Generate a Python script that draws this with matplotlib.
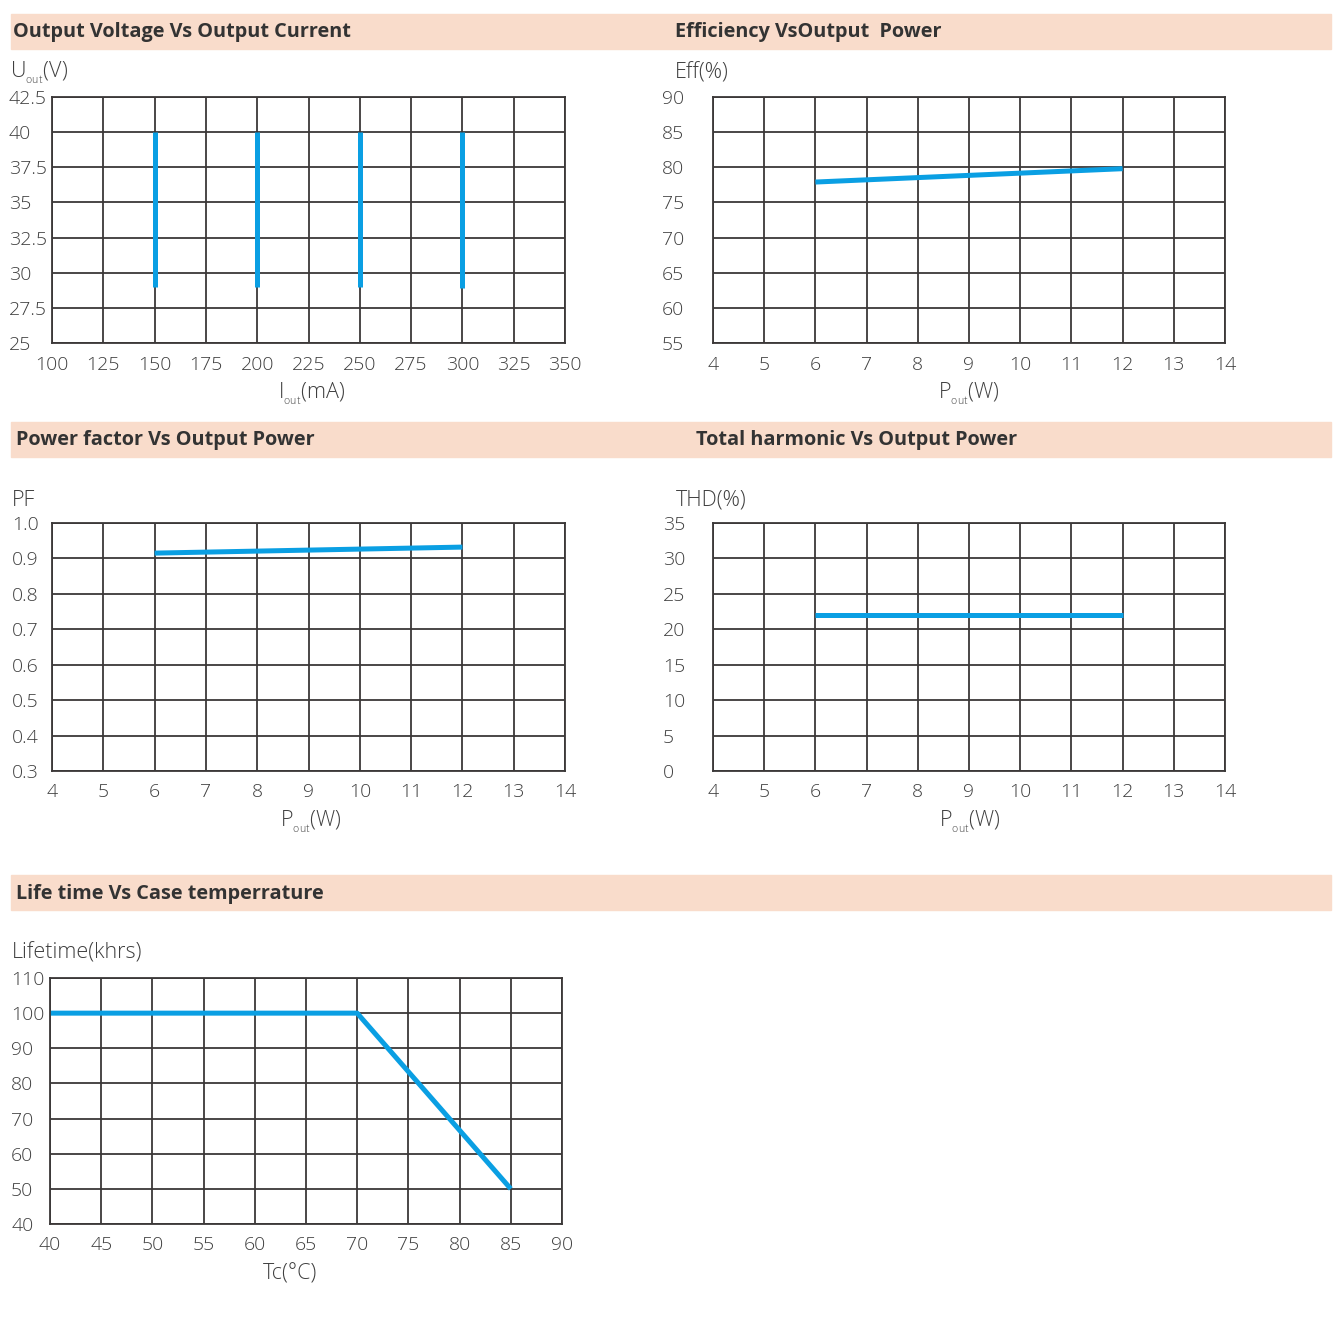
import matplotlib
matplotlib.use("Agg")
import matplotlib.pyplot as plt
from matplotlib.patches import Rectangle

plt.rcParams['font.family'] = ['Open Sans', 'DejaVu Sans']
plt.rcParams['font.weight'] = 'light'
plt.rcParams['mathtext.fontset'] = 'custom'
plt.rcParams['mathtext.rm'] = 'Open Sans:light'

# --- data ---
# Output voltage vs output current
iout_ticks = [100, 125, 150, 175, 200, 225, 250, 275, 300, 325, 350]
uout_ticks = [25, 27.5, 30, 32.5, 35, 37.5, 40, 42.5]
iout_levels = [150, 200, 250, 300]
uout_min = [29, 29, 29, 28.9]
uout_max = [40, 40, 40, 40]

# Efficiency vs output power
pout_ticks = [4, 5, 6, 7, 8, 9, 10, 11, 12, 13, 14]
eff_ticks = [55, 60, 65, 70, 75, 80, 85, 90]
eff_p = [6, 12]
eff_val = [77.9, 79.8]

# Power factor vs output power
pf_ticks = [0.3, 0.4, 0.5, 0.6, 0.7, 0.8, 0.9, 1.0]
pf_labels = ['0.3', '0.4', '0.5', '0.6', '0.7', '0.8', '0.9', '1.0']
pf_p = [6, 12]
pf_val = [0.915, 0.932]

# THD vs output power
thd_ticks = [0, 5, 10, 15, 20, 25, 30, 35]
thd_p = [6, 12]
thd_val = [22, 22]

# Lifetime vs case temperature
tc_ticks = [40, 45, 50, 55, 60, 65, 70, 75, 80, 85, 90]
life_ticks = [40, 50, 60, 70, 80, 90, 100, 110]
tc_val = [40, 70, 85]
life_val = [100, 100, 50]

W, H = 1344, 1333
fig = plt.figure(figsize=(W / 100, H / 100), dpi=100)

BLUE = '#0a9fe3'
GRID = '#3b3838'
BAR = '#f9dccb'
TXT = '#3f3f3f'
FS = 14
LFS = 15.5
SUB = r'$_{{}_{\mathrm{out}}}$'


def fx(px):
    return px / W


def fy(py):
    return 1 - py / H


def add_ax(l, t, r, b):
    return fig.add_axes([fx(l), fy(b), fx(r - l), (b - t) / H])


def header(top, bottom, texts):
    fig.add_artist(Rectangle((fx(11), fy(bottom)), fx(1331 - 11), (bottom - top) / H,
                             transform=fig.transFigure, color=BAR, zorder=0))
    for x, s in texts:
        fig.text(fx(x), fy((top + bottom) / 2 + 1), s, fontsize=14.3, fontweight='bold',
                 color='#333333', ha='left', va='center')


def label(x, y, s, ha='left'):
    fig.text(fx(x), fy(y + 3), s, fontsize=LFS, color=TXT, ha=ha, va='center')


def style(ax, xt, yt, ylabels=None, ypad=30):
    ax.set_xlim(xt[0], xt[-1])
    ax.set_ylim(yt[0], yt[-1])
    ax.set_xticks(xt)
    ax.set_yticks(yt)
    if ylabels is None:
        ylabels = ['%g' % v for v in yt]
    ax.set_yticklabels(ylabels)
    ax.grid(True, color=GRID, lw=1.3)
    ax.set_axisbelow(True)
    for sp in ax.spines.values():
        sp.set_color(GRID)
        sp.set_linewidth(1.3)
    ax.tick_params(length=0, labelsize=FS, colors=TXT, pad=9)
    ax.tick_params(axis='y', pad=ypad)
    for lbl in ax.get_yticklabels():
        lbl.set_horizontalalignment('left')


header(14, 49, [(13, 'Output Voltage Vs Output Current'), (675, 'Efficiency VsOutput  Power')])
header(422, 457, [(16, 'Power factor Vs Output Power'), (696, 'Total harmonic Vs Output Power')])
header(875, 910, [(16, 'Life time Vs Case temperrature')])

# chart 1
ax1 = add_ax(52, 97, 565, 343)
style(ax1, iout_ticks, uout_ticks, ypad=31)
for c, lo, hi in zip(iout_levels, uout_min, uout_max):
    ax1.plot([c, c], [lo, hi], color=BLUE, lw=3.6, solid_capstyle='butt')
label(10, 70, 'U' + SUB + '(V)')
label(312, 391, 'I' + SUB + '(mA)', ha='center')

# chart 2
ax2 = add_ax(713, 97, 1225, 343)
style(ax2, pout_ticks, eff_ticks, ypad=37)
ax2.plot(eff_p, eff_val, color=BLUE, lw=3.6, solid_capstyle='butt')
label(675, 70, 'Eff(%)')
label(969, 391, 'P' + SUB + '(W)', ha='center')

# chart 3
ax3 = add_ax(52, 523, 565, 771)
style(ax3, pout_ticks, pf_ticks, pf_labels, ypad=29)
ax3.plot(pf_p, pf_val, color=BLUE, lw=3.6, solid_capstyle='butt')
label(12, 497, 'PF')
label(311, 819, 'P' + SUB + '(W)', ha='center')

# chart 4
ax4 = add_ax(713, 523, 1225, 771)
style(ax4, pout_ticks, thd_ticks, ypad=36)
ax4.plot(thd_p, thd_val, color=BLUE, lw=3.6, solid_capstyle='butt')
label(676, 497, 'THD(%)')
label(970, 819, 'P' + SUB + '(W)', ha='center')

# chart 5
ax5 = add_ax(50, 978, 562, 1224)
style(ax5, tc_ticks, life_ticks, ypad=28)
ax5.plot(tc_val, life_val, color=BLUE, lw=3.6, solid_capstyle='butt')
label(12, 950, 'Lifetime(khrs)')
label(290, 1271, 'Tc(°C)', ha='center')

fig.savefig('out.png', dpi=100, facecolor='white')
